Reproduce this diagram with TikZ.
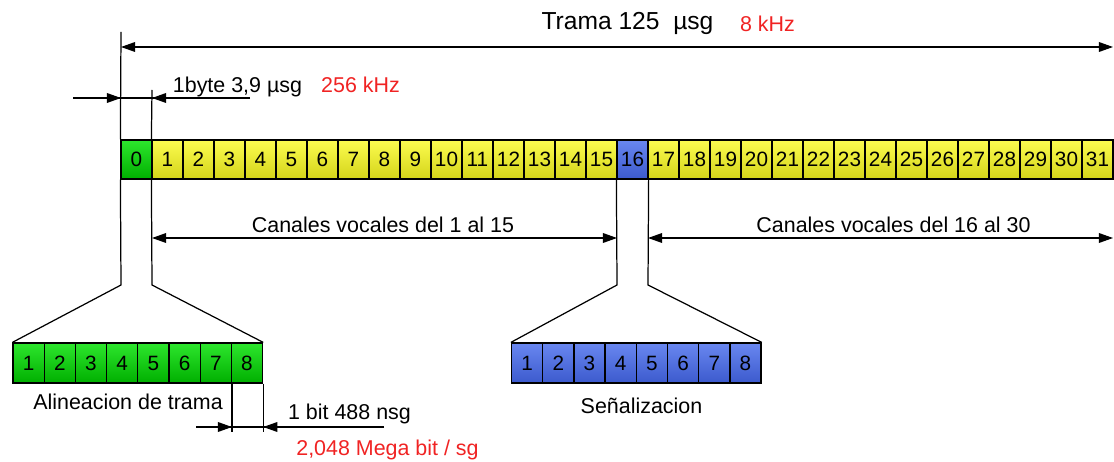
\documentclass[tikz,border=0pt]{standalone}
\usepackage{fontspec}
\setmainfont{Liberation Sans}
\usepackage{xcolor}
\usetikzlibrary{arrows.meta,positioning}

\definecolor{slotgreen}{RGB}{45,230,45}
\definecolor{slotgreendk}{RGB}{0,175,0}
\definecolor{slotyellow}{RGB}{252,252,80}
\definecolor{slotyellowdk}{RGB}{212,212,25}
\definecolor{slotblue}{RGB}{105,135,240}
\definecolor{slotbluedk}{RGB}{60,90,205}
\definecolor{labelred}{RGB}{240,35,35}

\tikzset{
  slot/.style={draw, line width=0.7pt, minimum width=0.62cm, minimum height=0.78cm,
    inner sep=0pt, font=\fontsize{11.8}{13}\selectfont},
  gslot/.style={slot, top color=slotgreen, bottom color=slotgreendk},
  yslot/.style={slot, top color=slotyellow, bottom color=slotyellowdk},
  bslot/.style={slot, top color=slotblue, bottom color=slotbluedk},
  bitslot/.style={minimum width=0.624cm, minimum height=0.8cm},
  lbl/.style={inner sep=0pt, anchor=base, font=\fontsize{12.2}{14}\selectfont},
  dim/.style={-{Triangle[length=8pt,width=5.5pt]}},
  dimboth/.style={{Triangle[length=8pt,width=5.5pt]}-{Triangle[length=8pt,width=5.5pt]}},
}

\begin{document}
\begin{tikzpicture}[x=0.02cm, y=-0.02cm, line width=0.7pt]
    \useasboundingbox (0,0) rectangle (1114,462);

    % Frame: 32 time slots
    \node[gslot] (s0) at (136.5,159.5) {0};
    \foreach \i in {1,...,15}
        \node[yslot] (s\i) at ({136.5+31*\i},159.5) {\i};
    \node[bslot] (s16) at ({136.5+31*16},159.5) {16};
    \foreach \i in {17,...,31}
        \node[yslot] (s\i) at ({136.5+31*\i},159.5) {\i};

    % Bits of slot 0 and slot 16
    \foreach \i in {1,...,8}
        \node[gslot, bitslot] (a\i) at ({13+31.2*\i-15.6},363) {\i};
    \foreach \i in {1,...,8}
        \node[bslot, bitslot] (b\i) at ({511.5+31.2*\i-15.6},363) {\i};

    % Helper points
    \coordinate (t0) at (121,32);
    \coordinate (t1) at (152,90);
    \coordinate (k0) at (121,285);
    \coordinate (k1) at (152,285);
    \coordinate (k16) at (617,285);
    \coordinate (k17) at (648,285);
    \coordinate (fl) at (121,47);
    \coordinate (fr) at (1113,47);
    \coordinate (bl) at (73,98);
    \coordinate (br) at (250,98);
    \coordinate (cv) at (0,238);
    \coordinate (ce) at (1113,238);
    \coordinate (bitl) at (196,427);
    \coordinate (bitr) at (384,427);
    \coordinate (bitlow) at (0,432);

    % Extension lines and zoom funnels
    \draw (t0) -- (s0.north west);
    \draw (s0.south west) -- (k0) -- (a1.north west);
    \draw (t1) -- (s1.north west);
    \draw (s1.south west) -- (k1) -- (a8.north east);
    \draw (s16.south west) -- (k16) -- (b1.north west);
    \draw (s16.south east) -- (k17) -- (b8.north east);
    \draw (a7.south east) -- (a7.south east |- bitlow);
    \draw (a8.south east) -- (a8.south east |- bitlow);

    % Dimension arrows
    \draw[dimboth] (fl) -- (fr);
    \draw (bl) -- (br);
    \draw[dim] (bl) -- (t0 |- bl);
    \draw[dim] (br) -- (t1 |- br);
    \draw[dimboth] (k1 |- cv) -- (k16 |- cv);
    \draw[dimboth] (k17 |- cv) -- (ce);
    \draw (bitl) -- (bitr);
    \draw[dim] (bitl) -- (a7.south east |- bitl);
    \draw[dim] (bitr) -- (a8.south east |- bitr);

    % Labels
    \node[lbl, font=\fontsize{14}{16}\selectfont] (trama) at (627.5,29.3) {Trama 125~~µsg};
    \node[lbl, text=labelred] (tramafreq) at (767.5,31.5) {8 kHz};
    \node[lbl] (bytelbl) at (237.5,92.5) {1byte 3,9 µsg};
    \node[lbl, text=labelred] (bytefreq) at (360.5,92.5) {256 kHz};
    \node[lbl] (cvlow) at (383,233) {Canales vocales del 1 al 15};
    \node[lbl] (cvhigh) at (893.5,233) {Canales vocales del 16 al 30};
    \node[lbl] (alin) at (128,409) {Alineacion de trama};
    \node[lbl] (senal) at (641.5,413) {Señalizacion};
    \node[lbl] (bitlbl) at (349.5,419) {1 bit 488 nsg};
    \node[lbl, text=labelred] (bitrate) at (387.5,455) {2,048 Mega bit / sg};
\end{tikzpicture}
\end{document}
